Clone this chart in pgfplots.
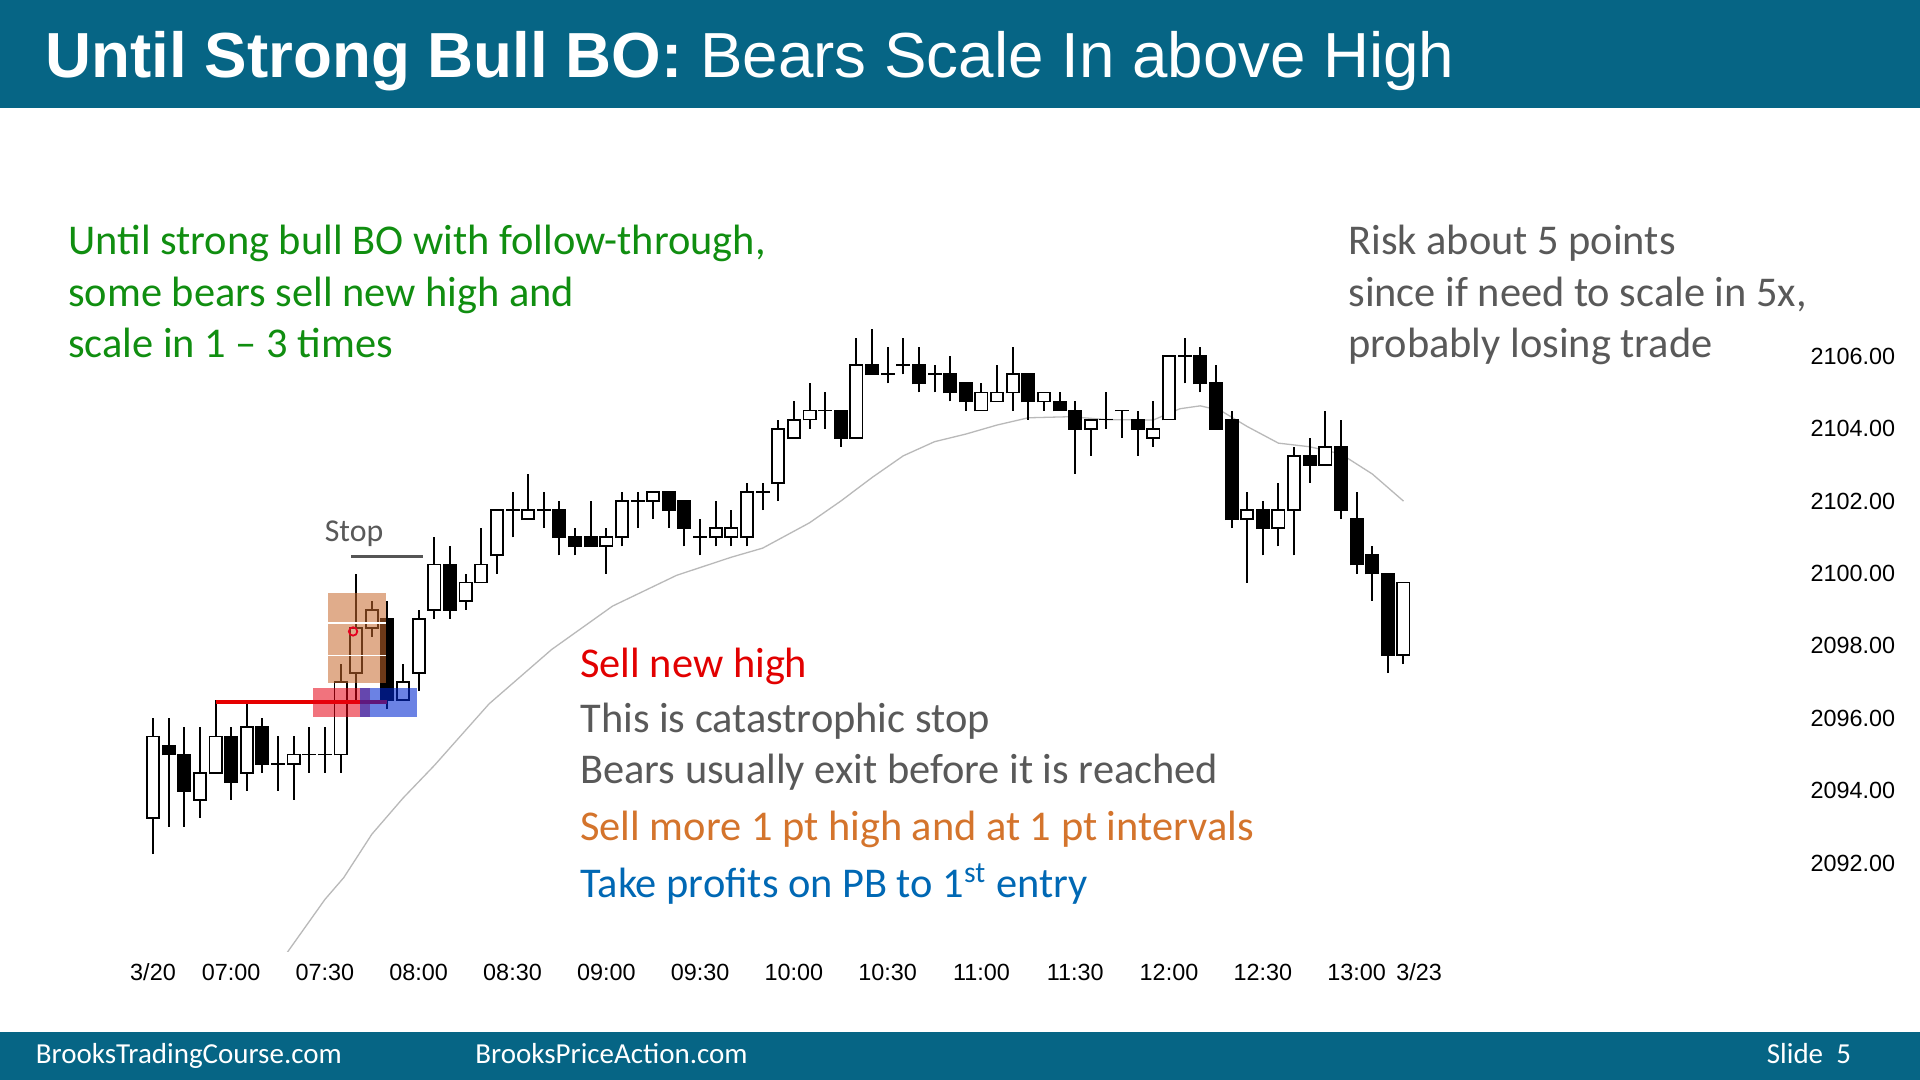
\documentclass[border=0pt]{standalone}
\usepackage{fontspec}
\setmainfont{Carlito}
\newfontfamily\arialfont{Liberation Sans}
\usepackage{pgfplots}
\pgfplotsset{compat=1.18}
\usepackage{pgfplotstable}
\definecolor{titlebar}{RGB}{6,101,133}
\definecolor{tgreen}{RGB}{16,142,16}
\definecolor{tred}{RGB}{226,0,0}
\definecolor{tgray}{RGB}{89,89,89}
\definecolor{torange}{RGB}{212,116,44}
\definecolor{tblue}{RGB}{0,104,180}
\definecolor{boxtan}{RGB}{200,105,45}
\definecolor{boxred}{RGB}{230,0,20}
\definecolor{boxblue}{RGB}{0,40,210}
\definecolor{emagray}{RGB}{185,185,185}
\newcommand\tsz{\fontsize{21.2}{25}\selectfont}

\pgfplotstableread{
x o h l c
0 2093.25 2096.00 2092.25 2095.50
1 2095.25 2096.00 2093.00 2095.00
2 2095.00 2095.75 2093.00 2094.00
3 2093.75 2095.75 2093.25 2094.50
4 2094.50 2096.50 2094.50 2095.50
5 2095.50 2095.75 2093.75 2094.25
6 2094.50 2096.50 2094.00 2095.75
7 2095.75 2096.00 2094.50 2094.75
8 2094.75 2095.50 2094.00 2094.75
9 2094.75 2095.50 2093.75 2095.00
10 2095.00 2095.75 2094.50 2095.00
11 2095.00 2095.75 2094.50 2095.00
12 2095.00 2097.50 2094.50 2097.00
13 2097.25 2100.00 2096.50 2098.50
14 2098.50 2099.25 2098.25 2099.00
15 2098.75 2099.25 2096.25 2096.50
16 2096.50 2097.50 2096.50 2097.00
17 2097.25 2099.00 2096.75 2098.75
18 2099.00 2101.00 2098.75 2100.25
19 2100.25 2100.75 2098.75 2099.00
20 2099.25 2100.00 2099.00 2099.75
21 2099.75 2101.25 2099.75 2100.25
22 2100.50 2101.75 2100.00 2101.75
23 2101.75 2102.25 2101.00 2101.75
24 2101.50 2102.75 2101.50 2101.75
25 2101.75 2102.25 2101.25 2101.75
26 2101.75 2102.00 2100.50 2101.00
27 2101.00 2101.25 2100.50 2100.75
28 2101.00 2102.00 2100.75 2100.75
29 2100.75 2101.25 2100.00 2101.00
30 2101.00 2102.25 2100.75 2102.00
31 2102.00 2102.25 2101.25 2102.00
32 2102.00 2102.25 2101.50 2102.25
33 2102.25 2102.25 2101.25 2101.75
34 2102.00 2102.00 2100.75 2101.25
35 2101.00 2101.50 2100.50 2101.00
36 2101.00 2102.00 2100.75 2101.25
37 2101.00 2101.75 2100.75 2101.25
38 2101.00 2102.50 2100.75 2102.25
39 2102.25 2102.50 2101.75 2102.25
40 2102.50 2104.25 2102.00 2104.00
41 2103.75 2104.75 2103.75 2104.25
42 2104.25 2105.25 2104.00 2104.50
43 2104.50 2105.00 2104.00 2104.50
44 2104.50 2104.50 2103.50 2103.75
45 2103.75 2106.50 2103.75 2105.75
46 2105.75 2106.75 2105.50 2105.50
47 2105.50 2106.25 2105.25 2105.50
48 2105.75 2106.50 2105.50 2105.75
49 2105.75 2106.25 2105.00 2105.25
50 2105.50 2105.75 2105.00 2105.50
51 2105.50 2106.00 2104.75 2105.00
52 2105.25 2105.25 2104.50 2104.75
53 2104.50 2105.25 2104.50 2105.00
54 2104.75 2105.75 2104.75 2105.00
55 2105.00 2106.25 2104.50 2105.50
56 2105.50 2105.50 2104.25 2104.75
57 2104.75 2105.00 2104.50 2105.00
58 2104.75 2105.00 2104.50 2104.50
59 2104.50 2104.75 2102.75 2104.00
60 2104.00 2104.25 2103.25 2104.25
61 2104.25 2105.00 2104.00 2104.25
62 2104.50 2104.50 2103.75 2104.50
63 2104.25 2104.50 2103.25 2104.00
64 2103.75 2104.75 2103.50 2104.00
65 2104.25 2106.00 2104.25 2106.00
66 2106.00 2106.50 2105.25 2106.00
67 2106.00 2106.25 2105.00 2105.25
68 2105.25 2105.75 2104.00 2104.00
69 2104.25 2104.50 2101.25 2101.50
70 2101.50 2102.25 2099.75 2101.75
71 2101.75 2102.00 2100.50 2101.25
72 2101.25 2102.50 2100.75 2101.75
73 2101.75 2103.50 2100.50 2103.25
74 2103.25 2103.75 2102.50 2103.00
75 2103.00 2104.50 2103.00 2103.50
76 2103.50 2104.25 2101.50 2101.75
77 2101.50 2102.25 2100.00 2100.25
78 2100.50 2100.75 2099.25 2100.00
79 2100.00 2100.00 2097.25 2097.75
80 2097.75 2099.75 2097.50 2099.75
}\bars

\begin{document}
\begin{tikzpicture}
\useasboundingbox (0,0) rectangle (960pt,540pt);
\fill[white] (0,0) rectangle (960pt,540pt);
\fill[titlebar] (0,486pt) rectangle (960pt,540pt);
\fill[titlebar] (0,0) rectangle (960pt,24pt);

\begin{axis}[
  at={(64.78pt,64.4pt)}, anchor=south west,
  scale only axis, width=837.8pt, height=369.9pt,
  xmin=-1.5, xmax=105.7, ymin=2089.57, ymax=2110,
  axis line style={draw=none}, major tick length=0pt, tick style={draw=none},
  xtick={0,5,11,17,23,29,35,41,47,53,59,65,71,77,81},
  xticklabels={3/20,07:00,07:30,08:00,08:30,09:00,09:30,10:00,10:30,11:00,11:30,12:00,12:30,13:00,3/23},
  ytick={2092,2094,2096,2098,2100,2102,2104,2106},
  yticklabels={2092.00,2094.00,2096.00,2098.00,2100.00,2102.00,2104.00,2106.00},
  xtick pos=bottom, ytick pos=right, yticklabel pos=right,
  /pgf/number format/assume math mode=true,
  tick label style={font=\arialfont\fontsize{11.7}{14}\selectfont, text=black},
  xticklabel style={anchor=base, inner sep=0pt, yshift=-14.8pt},
  yticklabel style={anchor=west, inner sep=0pt, xshift=2.5pt},
  clip=true,
]
% EMA
\addplot[emagray, line width=0.65pt, mark=none] coordinates {
(8.2,2089.3) (11,2091.0) (12.2,2091.6) (14,2092.8) (16,2093.8) (18,2094.7)
(21.5,2096.4) (25.5,2097.9) (29.4,2099.1) (33.5,2099.95) (37,2100.45)
(39,2100.7) (42,2101.4) (44,2102.0) (46,2102.65) (48,2103.25) (50,2103.64)
(52,2103.85) (54,2104.1) (56,2104.3) (58.7,2104.33) (61,2104.25) (64,2104.24)
(65.7,2104.55) (67,2104.63) (68.3,2104.5) (70,2104.06) (72,2103.6) (74,2103.5)
(76,2103.3) (78,2102.75) (80,2102.0)};
% wicks
\addplot[draw=none, mark=none,
  error bars/.cd, y dir=plus, y explicit, error mark=none,
  error bar style={draw=black, line width=1pt}]
  table[x=x, y=l, y error plus expr={\thisrow{h}-\thisrow{l}}] {\bars};
% bodies (outline / black)
\addplot[draw=none, mark=none,
  error bars/.cd, y dir=plus, y explicit, error mark=none,
  error bar style={draw=black, line width=7pt}]
  table[x=x, y expr={min(\thisrow{o},\thisrow{c})-0.025},
        y error plus expr={abs(\thisrow{c}-\thisrow{o})+0.05}] {\bars};
% bodies (white for bull)
\addplot[draw=none, mark=none,
  restrict expr to domain={\thisrow{c}-\thisrow{o}}{0.01:100},
  error bars/.cd, y dir=plus, y explicit, error mark=none,
  error bar style={draw=white, line width=5.2pt}]
  table[x=x, y expr={\thisrow{o}+0.025},
        y error plus expr={\thisrow{c}-\thisrow{o}-0.05}] {\bars};
% red line at prior high
\addplot[color={rgb,255:red,230;green,0;blue,0}, line width=1.6pt, mark=none]
  coordinates {(4.03,2096.45) (14.95,2096.45)};
% boxes
\addplot[fill=boxred, fill opacity=0.55, draw=none]
  coordinates {(10.22,2096.05) (13.88,2096.05) (13.88,2096.83) (10.22,2096.83)} -- cycle;
\addplot[fill=boxblue, fill opacity=0.58, draw=none]
  coordinates {(13.24,2096.05) (16.9,2096.05) (16.9,2096.83) (13.24,2096.83)} -- cycle;
\addplot[fill=boxtan, fill opacity=0.55, draw=none]
  coordinates {(11.2,2096.97) (14.9,2096.97) (14.9,2099.47) (11.2,2099.47)} -- cycle;
\addplot[white, line width=0.75pt, mark=none] coordinates {(11.2,2097.74) (14.9,2097.74)};
\addplot[white, line width=0.75pt, mark=none] coordinates {(11.2,2098.64) (14.9,2098.64)};
% entry circle
\addplot[only marks, mark=o, mark size=2.1pt, color={rgb,255:red,230;green,0;blue,30}, mark options={line width=0.9pt}]
  coordinates {(12.8,2098.4)};
% stop line
\addplot[color={rgb,255:red,85;green,85;blue,85}, line width=1.35pt, mark=none]
  coordinates {(12.67,2100.47) (17.3,2100.47)};
\end{axis}

% title
\node[anchor=base west, inner sep=0pt, text=white, font=\arialfont\fontsize{31.85}{38}\selectfont]
  at (22.65pt,501pt) {\textbf{Until Strong Bull BO:} Bears Scale In above High};
% green text
\node[anchor=base west, inner sep=0pt, text=tgreen, font=\tsz] at (34pt,412.5pt) {Until strong bull BO with follow-through,};
\node[anchor=base west, inner sep=0pt, text=tgreen, font=\tsz] at (34pt,386.8pt) {some bears sell new high and};
\node[anchor=base west, inner sep=0pt, text=tgreen, font=\tsz] at (34pt,361pt) {scale in 1 – 3 times};
% right text
\node[anchor=base west, inner sep=0pt, text=tgray, font=\tsz] at (674pt,412.5pt) {Risk about 5 points};
\node[anchor=base west, inner sep=0pt, text=tgray, font=\tsz] at (674pt,386.8pt) {since if need to scale in 5x,};
\node[anchor=base west, inner sep=0pt, text=tgray, font=\tsz] at (674pt,361pt) {probably losing trade};
% middle text
\node[anchor=base west, inner sep=0pt, text=tred, font=\tsz] at (290pt,201.3pt) {Sell new high};
\node[anchor=base west, inner sep=0pt, text=tgray, font=\tsz] at (290pt,173.8pt) {This is catastrophic stop};
\node[anchor=base west, inner sep=0pt, text=tgray, font=\tsz] at (290pt,148pt) {Bears usually exit before it is reached};
\node[anchor=base west, inner sep=0pt, text=torange, font=\tsz] at (290pt,119.7pt) {Sell more 1 pt high and at 1 pt intervals};
\node[anchor=base west, inner sep=0pt, text=tblue, font=\tsz] at (290pt,91.3pt) {Take profits on PB to 1\textsuperscript{st} entry};
% stop label
\node[anchor=base, inner sep=0pt, text=tgray, font=\fontsize{15.9}{19}\selectfont] at (177pt,269pt) {Stop};
% footer
\node[anchor=base west, inner sep=0pt, text=white, font=\fontsize{14.5}{17}\selectfont] at (17.75pt,8.2pt) {BrooksTradingCourse.com};
\node[anchor=base west, inner sep=0pt, text=white, font=\fontsize{14.5}{17}\selectfont] at (237.5pt,8.2pt) {BrooksPriceAction.com};
\node[anchor=base east, inner sep=0pt, text=white, font=\fontsize{14.5}{17}\selectfont] at (925.7pt,8.2pt) {Slide\ \ 5};
\end{tikzpicture}
\end{document}
